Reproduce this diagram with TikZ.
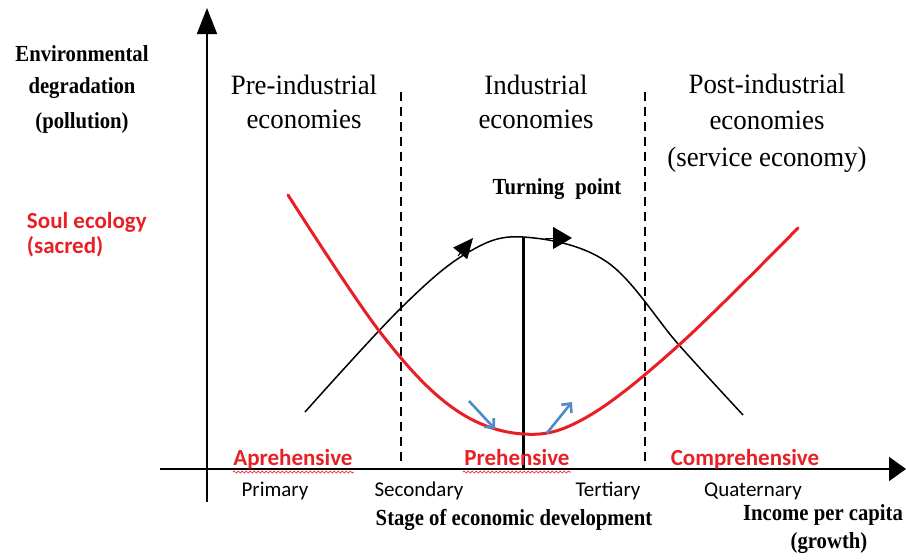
\documentclass[tikz,border=0pt]{standalone}
\usepackage{fontspec}
\setmainfont{Liberation Serif}
\newfontfamily\hdrfont{Liberation Serif}[FakeStretch=0.96]
\newfontfamily\lblfont{Liberation Serif}[FakeStretch=0.9]
\newfontfamily\calfont{Carlito}
\usetikzlibrary{arrows.meta,decorations.pathmorphing}
\definecolor{soulred}{RGB}{232,32,38}
\definecolor{arrowblue}{RGB}{79,139,201}
\begin{document}
\begin{tikzpicture}[x=1pt,y=-1pt,
  every node/.style={inner sep=0pt,outer sep=0pt},
  header/.style={anchor=base,font=\hdrfont\fontsize{28}{32}\selectfont},
  blabel/.style={anchor=base,font=\lblfont\bfseries\fontsize{23}{27}\selectfont},
  redlabel/.style={anchor=base,font=\calfont\bfseries\fontsize{23}{27}\selectfont,text=soulred},
  stagelabel/.style={anchor=base,font=\calfont\fontsize{21}{25}\selectfont},
  axisline/.style={line width=1.8pt},
  divider/.style={line width=1.3pt,dash pattern=on 9pt off 6pt},
  soulcurve/.style={soulred,line width=3pt,line cap=round},
  envcurve/.style={black,line width=1.5pt},
  bluearrow/.style={arrowblue,line width=2.6pt,-{Straight Barb[length=7pt,width=13pt]}},
  squiggle/.style={soulred,line width=0.7pt,decorate,decoration={snake,amplitude=1pt,segment length=4pt}}
]
\useasboundingbox (0,0) rectangle (906,560);

% axes
\coordinate (yb) at (207,502);
\coordinate (yt) at (207,8);
\coordinate (xl) at (160,469);
\coordinate (xr) at (906,469);
\draw[axisline,-{Triangle[length=26pt,width=20pt]}] (yb) -- (yt);
\draw[axisline,-{Triangle[length=17pt,width=24pt]}] (xl) -- (xr);

% dashed dividers
\coordinate (d1t) at (401,92);
\coordinate (d1b) at (401,464);
\coordinate (d2t) at (645,92);
\coordinate (d2b) at (645,465);
\draw[divider] (d1t) -- (d1b);
\draw[divider] (d2t) -- (d2b);

% left axis labels
\node[blabel] (env1) at (82,61) {Environmental};
\node[blabel] (env2) at (82,93) {degradation};
\node[blabel] (env3) at (82,128) {(pollution)};
\node[redlabel,anchor=base west] (soul1) at (27,228) {Soul ecology};
\node[redlabel,anchor=base west] (soul2) at (27,253) {(sacred)};

% headers
\node[header] (pre1) at (304,94) {Pre-industrial};
\node[header] (pre2) at (304,128) {economies};
\node[header] (ind1) at (536,94) {Industrial};
\node[header] (ind2) at (536,128) {economies};
\node[header] (post1) at (767,93) {Post-industrial};
\node[header] (post2) at (767,129) {economies};
\node[header] (post3) at (767,166) {(service economy)};

\node[blabel] (turn) at (557,194) {Turning\hspace{11pt}point};

% black (environmental) curve
\draw[envcurve] plot[smooth,tension=0.6] coordinates {(305,412) (401,308) (467,253) (523,237) (607,262) (679,345) (743,415)};
\coordinate (a1s) at (458,256);
\coordinate (a1e) at (473,238);
\coordinate (a2s) at (545,238);
\coordinate (a2e) at (572,238);
\draw[line width=1pt,-{Triangle[length=20pt,width=18pt]}] (a1s) -- (a1e);
\draw[line width=1pt,-{Triangle[length=19pt,width=22pt]}] (a2s) -- (a2e);

% turning point line
\coordinate (tpt) at (523,237);
\coordinate (tpb) at (523,469);
\draw[line width=3pt] (tpt) -- (tpb);

% red (soul ecology) curve
\draw[soulcurve] plot[smooth,tension=0.6] coordinates {(288,195) (380,332) (453,408) (523,434) (587,417) (679,345) (798,228)};

% blue arrows
\coordinate (b1s) at (469,401);
\coordinate (b1e) at (495,429);
\coordinate (b2s) at (547,433);
\coordinate (b2e) at (572,402);
\draw[bluearrow] (b1s) -- (b1e);
\draw[bluearrow] (b2s) -- (b2e);

% bottom labels
\node[redlabel] (apre) at (293,465) {Aprehensive};
\node[redlabel] (preh) at (517,465) {Prehensive};
\node[redlabel] (comp) at (745,465) {Comprehensive};
\coordinate (sq1a) at (233,472);
\coordinate (sq1b) at (354,472);
\coordinate (sq2a) at (463,472);
\coordinate (sq2b) at (571,472);
\draw[squiggle] (sq1a) -- (sq1b);
\draw[squiggle] (sq2a) -- (sq2b);

\node[stagelabel] (prim) at (275,496) {Primary};
\node[stagelabel] (sec) at (419,496) {Secondary};
\node[stagelabel] (ter) at (608,496) {Tertiary};
\node[stagelabel] (quat) at (753,496) {Quaternary};

\node[blabel] (stage) at (514,525) {Stage of economic development};
\node[blabel] (inc1) at (823,520) {Income per capita};
\node[blabel] (inc2) at (829,548) {(growth)};
\end{tikzpicture}
\end{document}
